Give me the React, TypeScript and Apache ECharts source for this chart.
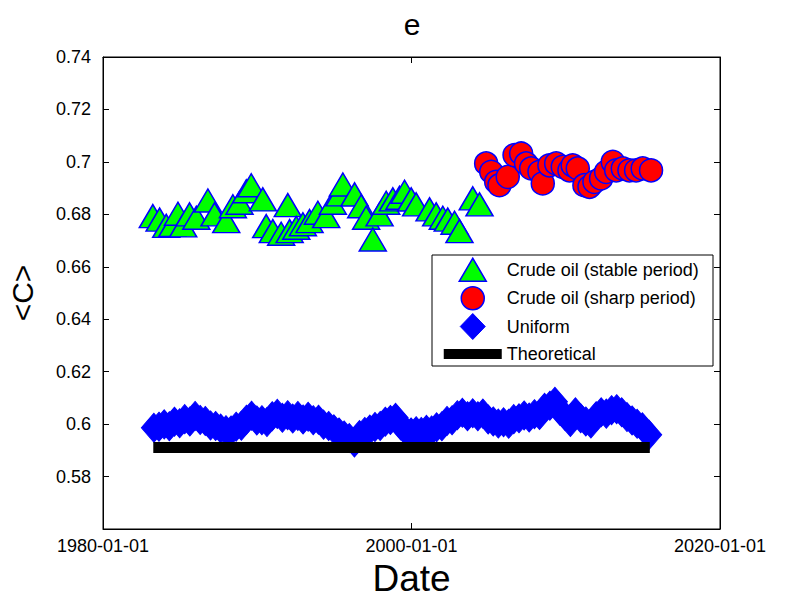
import React, { useEffect, useRef } from 'react';
import * as echarts from 'echarts';

// ---- Data ----
const xTickValues = [1980, 2000, 2020];
const xTickLabels = ['1980-01-01', '2000-01-01', '2020-01-01'];

const seriesNames = [
  'Crude oil (stable period)',
  'Crude oil (sharp period)',
  'Uniform',
  'Theoretical',
];

const stableYears = [
  1983.23, 1983.67, 1984.1, 1984.5, 1984.86, 1985.2, 1985.61, 1986.05, 1986.8, 1987.23,
  1987.99, 1988.42, 1988.85, 1989.29, 1989.61, 1990.36, 1990.58, 1991.01, 1991.55, 1991.98,
  1992.1, 1992.53, 1992.96, 1993.39, 1993.93, 1994.47, 1994.9, 1995.33, 1995.55, 1996.31,
  1996.74, 1997.06, 1997.49, 1997.93, 1998.36, 1998.79, 1999.22, 1999.55, 1999.98, 2000.3,
  2001.17, 2001.6, 2002.03, 2002.35, 2002.79, 2003.11, 2003.97, 2004.41,
];
const stableValues = [
  0.6793, 0.678, 0.6756, 0.676, 0.6802, 0.6758, 0.68, 0.6787, 0.6853, 0.68,
  0.6774, 0.6831, 0.6844, 0.6888, 0.6911, 0.6857, 0.6755, 0.6736, 0.6726, 0.6835,
  0.6736, 0.6749, 0.6762, 0.6774, 0.6806, 0.6793, 0.6844, 0.6876, 0.6914, 0.6876,
  0.6831, 0.6787, 0.6704, 0.68, 0.6844, 0.6857, 0.6863, 0.6886, 0.6857, 0.6838,
  0.6819, 0.68, 0.6787, 0.678, 0.6768, 0.6736, 0.6861, 0.6838,
];

const sharpYears = [
  2004.84, 2005.17, 2005.49, 2005.7, 2006.24, 2006.68, 2007.11, 2007.43, 2007.76, 2008.3,
  2008.51, 2008.94, 2009.38, 2009.81, 2010.24, 2010.45, 2010.78, 2011.21, 2011.54, 2011.86,
  2012.29, 2012.62, 2013.05, 2013.27, 2013.7, 2014.13, 2014.56, 2014.99, 2015.53,
];
const sharpValues = [
  0.6994, 0.6962, 0.6924, 0.6911, 0.6943, 0.7026, 0.7032, 0.6994, 0.6975, 0.6962,
  0.6918, 0.6987, 0.6994, 0.6981, 0.6968, 0.6987, 0.6975, 0.6911, 0.6905, 0.6924,
  0.6937, 0.6962, 0.7, 0.6968, 0.6975, 0.6968, 0.6968, 0.6975, 0.6968,
];

const uniformYears = [
  1983.3, 1983.63, 1983.97, 1984.3, 1984.63, 1984.97, 1985.3, 1985.63, 1985.97, 1986.3,
  1986.63, 1986.97, 1987.3, 1987.63, 1987.97, 1988.3, 1988.63, 1988.97, 1989.3, 1989.63,
  1989.97, 1990.3, 1990.63, 1990.97, 1991.3, 1991.63, 1991.97, 1992.3, 1992.63, 1992.97,
  1993.3, 1993.63, 1993.97, 1994.3, 1994.63, 1994.97, 1995.3, 1995.63, 1995.97, 1996.3,
  1996.63, 1996.97, 1997.3, 1997.63, 1997.97, 1998.3, 1998.63, 1998.97, 1999.3, 1999.63,
  1999.97, 2000.3, 2000.63, 2000.97, 2001.3, 2001.63, 2001.97, 2002.3, 2002.63, 2002.97,
  2003.3, 2003.63, 2003.97, 2004.3, 2004.63, 2004.97, 2005.3, 2005.63, 2005.97, 2006.3,
  2006.63, 2006.97, 2007.3, 2007.63, 2007.97, 2008.3, 2008.63, 2008.97, 2009.3, 2009.63,
  2009.97, 2010.3, 2010.63, 2010.97, 2011.3, 2011.63, 2011.97, 2012.3, 2012.63, 2012.97,
  2013.3, 2013.63, 2013.97, 2014.3, 2014.63, 2014.97, 2015.41,
];
const uniformValues = [
  0.5986, 0.599, 0.5999, 0.5992, 0.6009, 0.6003, 0.6019, 0.601, 0.6031, 0.6016,
  0.6012, 0.5995, 0.5993, 0.5983, 0.5977, 0.5976, 0.599, 0.5994, 0.6017, 0.6032,
  0.6014, 0.6015, 0.6008, 0.603, 0.6039, 0.6024, 0.6034, 0.6021, 0.6031, 0.6018,
  0.6028, 0.6015, 0.6017, 0.5998, 0.5993, 0.598, 0.5968, 0.5957, 0.5947, 0.593,
  0.5958, 0.597, 0.5979, 0.5989, 0.5993, 0.6009, 0.6016, 0.6024, 0.5995, 0.5975,
  0.5968, 0.5973, 0.597, 0.5978, 0.5976, 0.5988, 0.5992, 0.6012, 0.6015, 0.6034,
  0.6043, 0.603, 0.6041, 0.603, 0.604, 0.6018, 0.601, 0.6002, 0.6007, 0.6001,
  0.6019, 0.6022, 0.6033, 0.6025, 0.6038, 0.6035, 0.6062, 0.607, 0.6085, 0.605,
  0.603, 0.6008, 0.6045, 0.6022, 0.601, 0.6002, 0.603, 0.6045, 0.604, 0.6053,
  0.6057, 0.6045, 0.6027, 0.6014, 0.6001, 0.5988, 0.5959,
];

const theoreticalYears = [1983.26, 2015.45];
const theoreticalValues = [0.5911, 0.5911];

const zip = (xs: number[], ys: number[]) => xs.map((x, i) => [x, ys[i]]);

export default function App() {
  const ref = useRef<HTMLDivElement>(null);

  useEffect(() => {
    const el = ref.current;
    if (!el) return;
    const chart = echarts.init(el, null, { renderer: 'svg' });
    const font = "'Liberation Sans', Arial, Helvetica, sans-serif";
    const bbox = 'M0,0M58,26';

    const yAxisBase = {
      type: 'value',
      min: 0.56,
      max: 0.74,
      interval: 0.02,
      splitLine: { show: false },
      axisLine: { show: true, lineStyle: { color: '#000', width: 1 } },
      axisTick: { show: true, inside: true, length: 6, lineStyle: { color: '#000' } },
    };
    const xAxisBase = {
      type: 'value',
      min: 1980,
      max: 2020,
      interval: 20,
      splitLine: { show: false },
      axisLine: { show: true, lineStyle: { color: '#000', width: 1 } },
      axisTick: { show: true, inside: true, length: 6, lineStyle: { color: '#000' } },
    };

    chart.setOption({
      animation: false,
      backgroundColor: '#fff',
      title: {
        text: 'e',
        left: 412,
        top: 9,
        textAlign: 'center',
        padding: 0,
        textStyle: { fontFamily: font, fontSize: 30, fontWeight: 'normal', color: '#000' },
      },
      grid: {
        left: 103,
        right: 75,
        top: 57,
        bottom: 70,
        show: true,
        borderColor: '#000',
        borderWidth: 1,
        backgroundColor: '#fff',
        outerBoundsMode: 'none',
      },
      xAxis: [
        {
          ...xAxisBase,
          position: 'bottom',
          name: 'Date',
          nameLocation: 'middle',
          nameGap: 14,
          nameTextStyle: { fontFamily: font, fontSize: 37, color: '#000' },
          axisLabel: {
            margin: 8,
            fontFamily: font,
            fontSize: 18,
            color: '#000',
            formatter: (v: number) => xTickLabels[xTickValues.indexOf(Math.round(v))] ?? '',
          },
        },
        {
          ...xAxisBase,
          position: 'top',
          axisLabel: { show: false },
        },
      ],
      yAxis: [
        {
          ...yAxisBase,
          position: 'left',
          name: '<C>',
          nameLocation: 'middle',
          nameRotate: 90,
          nameGap: 66,
          nameTextStyle: { fontFamily: font, fontSize: 30, color: '#000' },
          axisLabel: {
            margin: 12,
            fontFamily: font,
            fontSize: 18,
            color: '#000',
            formatter: (v: number) => (v < 0.565 ? '' : String(Number(v.toFixed(2)))),
          },
        },
        {
          ...yAxisBase,
          position: 'right',
          axisLabel: { show: false },
        },
      ],
      legend: {
        orient: 'vertical',
        left: 443,
        top: 256,
        padding: 0,
        itemWidth: 58,
        itemHeight: 26,
        itemGap: 1,
        selectedMode: false,
        z: 5,
        textStyle: { fontFamily: font, fontSize: 18, color: '#000' },
        data: [
          {
            name: seriesNames[0],
            icon: 'path://' + bbox + 'M29,1.5L42.5,24.5L15.5,24.5Z',
            itemStyle: { color: '#00ff00', borderColor: '#0000ff', borderWidth: 1.5 },
          },
          {
            name: seriesNames[1],
            icon: 'path://' + bbox + 'M17.5,13A11.5,11.5 0 1 0 40.5,13A11.5,11.5 0 1 0 17.5,13Z',
            itemStyle: { color: '#ff0000', borderColor: '#0000ff', borderWidth: 1.5 },
          },
          {
            name: seriesNames[2],
            icon: 'path://' + bbox + 'M29,0L41.5,13L29,26L16.5,13Z',
            itemStyle: { color: '#0000ff', borderColor: '#0000ff', borderWidth: 1 },
          },
          {
            name: seriesNames[3],
            icon: 'path://' + bbox + 'M0,8L58,8L58,18L0,18Z',
            itemStyle: { color: '#000000', borderWidth: 0 },
          },
        ],
      },
      graphic: [
        {
          type: 'rect',
          z: 3,
          shape: { x: 432, y: 255, width: 281, height: 111 },
          style: { fill: '#fff', stroke: '#000', lineWidth: 1 },
        },
      ],
      series: [
        {
          name: seriesNames[0],
          type: 'scatter',
          symbol: 'triangle',
          symbolSize: [27, 23],
          data: zip(stableYears, stableValues),
          itemStyle: { color: '#00ff00', borderColor: '#0000ff', borderWidth: 1.5, opacity: 1 },
          emphasis: { disabled: true },
        },
        {
          name: seriesNames[1],
          type: 'scatter',
          symbol: 'circle',
          symbolSize: 23,
          data: zip(sharpYears, sharpValues),
          itemStyle: { color: '#ff0000', borderColor: '#0000ff', borderWidth: 1.5, opacity: 1 },
          emphasis: { disabled: true },
        },
        {
          name: seriesNames[2],
          type: 'scatter',
          symbol: 'diamond',
          symbolSize: [25, 29],
          data: zip(uniformYears, uniformValues),
          itemStyle: { color: '#0000ff', borderColor: '#0000ff', borderWidth: 1, opacity: 1 },
          emphasis: { disabled: true },
        },
        {
          name: seriesNames[3],
          type: 'line',
          symbol: 'none',
          data: zip(theoreticalYears, theoreticalValues),
          lineStyle: { color: '#000', width: 11, cap: 'butt' },
          itemStyle: { color: '#000' },
          emphasis: { disabled: true },
        },
      ],
    });

    return () => {
      chart.dispose();
    };
  }, []);

  return (
    <div
      ref={ref}
      style={{ position: 'fixed', left: 0, top: 0, width: 795, height: 599, background: '#fff' }}
    />
  );
}
